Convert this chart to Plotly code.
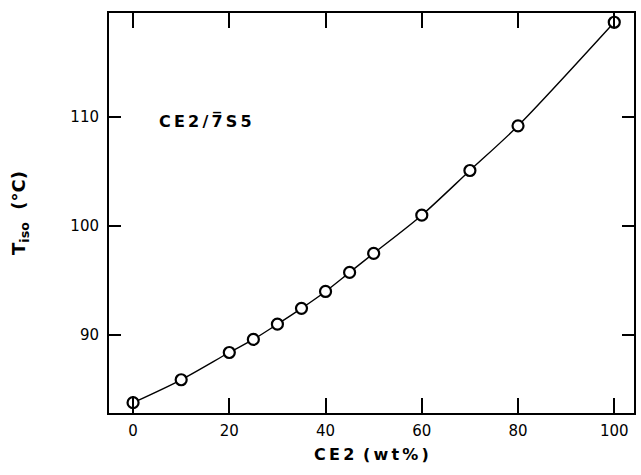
import plotly.graph_objects as go

ce2_wt = [0, 10, 20, 25, 30, 35, 40, 45, 50, 60, 70, 80, 100]
t_iso = [83.8, 85.9, 88.4, 89.6, 91.0, 92.45, 94.0, 95.75, 97.5, 101.0, 105.1, 109.2, 118.7]
err = [0.6, 0, 0, 0, 0, 0, 0, 0, 0, 0, 0, 0, 0.6]
x_ticks = [0, 20, 40, 60, 80, 100]
y_ticks = [90, 100, 110]

FONT = "DejaVu Sans"
T = "\u2009"

fig = go.Figure()
fig.add_trace(go.Scatter(
    x=ce2_wt, y=t_iso, mode="lines",
    line=dict(color="black", width=1.4, shape="spline", smoothing=0.8),
    hoverinfo="skip", showlegend=False))
fig.add_trace(go.Scatter(
    x=ce2_wt, y=t_iso, mode="markers",
    marker=dict(symbol="circle", size=11, color="white",
                line=dict(color="black", width=2.2)),
    error_y=dict(type="data", array=err, visible=True, color="black",
                 thickness=2, width=0),
    showlegend=False))

fig.add_annotation(x=5.0, y=109.6, xref="x", yref="y", xanchor="left", yanchor="middle",
                   text="<b>C" + T + "E" + T + "2" + T + "/" + T + "7\u0305" + T + "S" + T + "5</b>",
                   showarrow=False,
                   font=dict(family=FONT, size=16, color="black"))

axis_common = dict(showgrid=False, zeroline=False, showline=True, linecolor="black",
                   linewidth=2, mirror="ticks", ticks="inside", tickcolor="black",
                   tickwidth=2, tickfont=dict(family=FONT, size=15, color="black"))

fig.update_xaxes(range=[-5, 104.1], tickvals=x_ticks, ticklen=15, ticklabelstandoff=3,
                 title=dict(text="<b>C" + T + "E" + T + "2" + T + " (" + T + "w" + T + "t" + T + "%" + T + ")</b>",
                            font=dict(family=FONT, size=16, color="black"),
                            standoff=10),
                 **axis_common)
fig.update_yaxes(range=[82.85, 119.55], tickvals=y_ticks, ticklen=12, ticklabelstandoff=5,
                 title=dict(text="<b>T<sub>iso</sub>  (°C)</b>", font=dict(family=FONT, size=18, color="black"),
                            standoff=40),
                 **axis_common)

fig.update_layout(width=641, height=475, plot_bgcolor="white", paper_bgcolor="white",
                  margin=dict(l=109, r=5, t=13, b=62))

fig.write_html("out.html", config={"displayModeBar": False},
               post_script="document.body.style.margin='0';document.body.style.overflow='hidden';")
